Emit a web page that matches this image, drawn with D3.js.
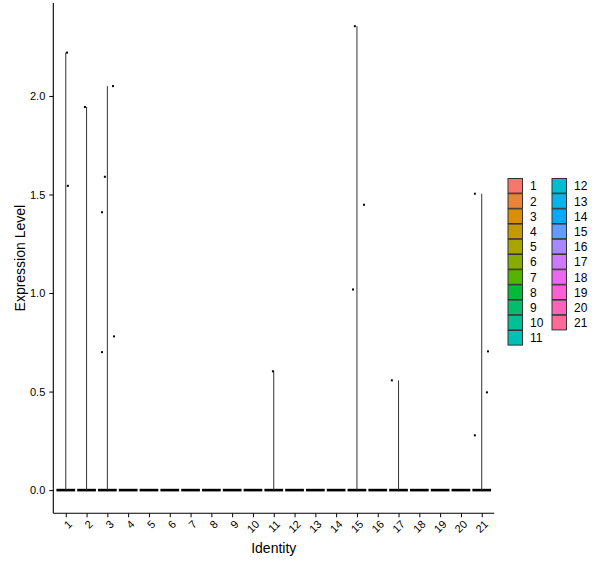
<!DOCTYPE html>
<html>
<head>
<meta charset="utf-8">
<script src="https://cdn.jsdelivr.net/npm/d3@7"></script>
<style>
  body { margin: 0; background: #fff; }
  text { font-family: "Liberation Sans", Arial, sans-serif; fill: #000; }
</style>
</head>
<body>
<svg id="chart" width="600" height="568"></svg>
<script>
const clusters = d3.range(1, 22).map(String)
const yTicks = [0, 0.5, 1.0, 1.5, 2.0]

// non-zero cells: cluster, expression, horizontal jitter (in category units)
const pointCluster = ['1', '1', '2', '3', '3', '3', '3', '3', '11', '15', '15', '15', '17', '21', '21', '21', '21']
const pointValue = [2.22, 1.544, 1.944, 2.05, 1.59, 1.41, 0.70, 0.78, 0.603, 2.354, 1.448, 1.018, 0.557, 1.504, 0.704, 0.496, 0.278]
const pointJitter = [0.06, 0.1, -0.08, 0.27, -0.12, -0.26, -0.26, 0.32, -0.04, -0.1, 0.34, -0.19, -0.32, -0.33, 0.3, 0.25, -0.33]

const panel = { left: 53.3, right: 494.2, top: 3, bottom: 513.3 }

// ggplot2 hue_pal (polar LUV) -> sRGB
function hclColor(h, c, l) {
	const WX = 95.047, WY = 100.0, WZ = 108.883
	const wu = 4 * WX / (WX + 15 * WY + 3 * WZ), wv = 9 * WY / (WX + 15 * WY + 3 * WZ)
	const hr = h * Math.PI / 180
	const U = c * Math.cos(hr), V = c * Math.sin(hr)
	const Y = WY * (l > 7.999592 ? Math.pow((l + 16) / 116, 3) : l / 903.3)
	const u = U / (13 * l) + wu, v = V / (13 * l) + wv
	const X = 9 * Y * u / (4 * v)
	const Z = -X / 3 - 5 * Y + 3 * Y / v
	const g = t => t > 0.00304 ? 1.055 * Math.pow(t, 1 / 2.4) - 0.055 : 12.92 * t
	const cl = t => Math.round(255 * Math.max(0, Math.min(1, g(t))))
	return d3.rgb(
		cl((3.240479 * X - 1.537150 * Y - 0.498535 * Z) / WY),
		cl((-0.969256 * X + 1.875992 * Y + 0.041556 * Z) / WY),
		cl((0.055648 * X - 0.204043 * Y + 1.057311 * Z) / WY)).formatHex()
}
const palette = clusters.map((d, i) => hclColor(15 + i * 360 / clusters.length, 100, 65))
const color = d3.scaleOrdinal().domain(clusters).range(palette)

const points = pointValue.map((v, i) => ({ cluster: pointCluster[i], value: v, jitter: pointJitter[i] }))
const maxByCluster = d3.rollup(points, g => d3.max(g, d => d.value), d => d.cluster)

const svg = d3.select('#chart')

const x = d3.scalePoint().domain(clusters).range([panel.left, panel.right]).padding(0.6)
const step = x.step()
const yMax = d3.max(pointValue)
const pad = 0.05 * yMax
const y = d3.scaleLinear().domain([-pad, yMax + pad]).range([panel.bottom, panel.top])

const plot = svg.append('g')

// violins: base at zero (width 0.9) plus thin stem up to the max
clusters.forEach(c => {
	const cx = x(c)
	plot.append('rect')
		.attr('x', cx - 0.45 * step).attr('width', 0.9 * step)
		.attr('y', y(0) - 1.3).attr('height', 2.6)
		.attr('fill', '#000')
	const m = maxByCluster.get(c)
	if (m) {
		plot.append('line')
			.attr('x1', cx).attr('x2', cx)
			.attr('y1', y(0)).attr('y2', y(m))
			.attr('stroke', '#333').attr('stroke-width', 1)
	}
})

plot.selectAll('rect.pt').data(points)
	.enter().append('rect').attr('class', 'pt')
	.attr('x', d => x(d.cluster) + d.jitter * step - 1)
	.attr('y', d => y(d.value) - 1)
	.attr('width', 2).attr('height', 2)
	.attr('fill', '#000')

// axes
const yAxis = svg.append('g')
	.attr('transform', `translate(${panel.left},0)`)
	.call(d3.axisLeft(y).tickValues(yTicks).tickFormat(d3.format('.1f')).tickSizeOuter(0).tickSize(4).tickPadding(4))
yAxis.select('.domain').attr('stroke', '#000').attr('stroke-width', 1.1)
	.attr('d', `M0,${panel.top}V${panel.bottom}`)
yAxis.selectAll('.tick line').attr('stroke', '#000')
yAxis.selectAll('.tick text').style('font-size', '11px').attr('fill', '#000')

const xAxis = svg.append('g')
	.attr('transform', `translate(0,${panel.bottom})`)
	.call(d3.axisBottom(x).tickSizeOuter(0).tickSize(4))
xAxis.select('.domain').attr('stroke', '#000').attr('stroke-width', 1.1)
	.attr('d', `M${panel.left},0H${panel.right}`)
xAxis.selectAll('.tick line').attr('stroke', '#000')
xAxis.selectAll('.tick text')
	.style('font-size', '11px').attr('fill', '#000')
	.attr('text-anchor', 'end')
	.attr('y', 0).attr('dy', '0.72em')
	.attr('transform', 'translate(1,6) rotate(-45)')

svg.append('text')
	.attr('x', (panel.left + panel.right) / 2).attr('y', 553)
	.attr('text-anchor', 'middle').style('font-size', '14px')
	.text('Identity')

svg.append('text')
	.attr('transform', `translate(24.5,${(panel.top + panel.bottom) / 2}) rotate(-90)`)
	.attr('text-anchor', 'middle').style('font-size', '14px')
	.text('Expression Level')

// legend, two columns
const perCol = 11
const pitch = 15.2
const legend = svg.append('g').attr('transform', 'translate(508,178.5)')
const items = legend.selectAll('g').data(clusters)
	.enter().append('g')
	.attr('transform', (d, i) => `translate(${Math.floor(i / perCol) * 44},${(i % perCol) * pitch})`)
items.append('rect')
	.attr('width', 14.5).attr('height', pitch - 0.6)
	.attr('fill', d => color(d))
	.attr('stroke', '#333').attr('stroke-width', 1)
items.append('text')
	.attr('x', 22).attr('y', pitch / 2).attr('dy', '0.36em')
	.style('font-size', '12px')
	.text(d => d)
</script>
</body>
</html>
